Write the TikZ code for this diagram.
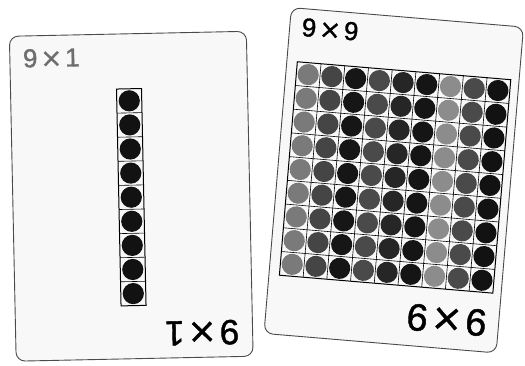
\documentclass[tikz,border=0pt]{standalone}
\usepackage{fontspec}
\newfontfamily\cardfont[FakeBold=1]{DejaVu Sans}
\newfontfamily\digitfont[FakeBold=1.2]{Liberation Sans}
\definecolor{cardfill}{HTML}{F8F8F8}
\definecolor{cardedge}{HTML}{4A4A4A}
\definecolor{colA}{HTML}{7A7A7A}
\definecolor{colB}{HTML}{454545}
\definecolor{colC}{HTML}{161616}
\definecolor{colD}{HTML}{4A4A4A}
\definecolor{colE}{HTML}{262626}
\definecolor{colF}{HTML}{151515}
\definecolor{colG}{HTML}{8C8C8C}
\definecolor{colH}{HTML}{4A4A4A}
\definecolor{colI}{HTML}{121212}
\definecolor{toplabel}{HTML}{6E6E6E}
\newcommand{\cardtext}[2]{{\digitfont #1}\hspace{3pt}{\cardfont ×}\hspace{3pt}{\digitfont #2}}
\tikzset{
  card/.style={draw=cardedge, line width=0.9pt, fill=cardfill, rounded corners=9pt},
  gridline/.style={draw=black, line width=0.6pt},
  gridframe/.style={draw=black, line width=1pt},
  smalllabel/.style={inner sep=0pt, anchor=center, font=\fontsize{26}{30}\selectfont},
  biglabel/.style={inner sep=0pt, anchor=center, rotate=180},
}
\begin{document}
\begin{tikzpicture}[x=1pt, y=-1pt]
\useasboundingbox (0,0) rectangle (525,365);
\fill[white] (0,0) rectangle (525,365);

% Left card 9x1
\begin{scope}[shift={(131.25,196.25)}, rotate=1.2, transform shape]
  \draw[card] (-118.5,-162.5) rectangle (118.5,162.5);
  \foreach \i in {0,...,8}
    \fill[colI] (0,{-107.5+12.05+24.1*\i}) circle[radius=10.6pt];
  \foreach \i in {1,...,8}
    \draw[gridline] (-12.5,{-107.5+24.1*\i}) -- (12.5,{-107.5+24.1*\i});
  \draw[gridframe] (-12.5,-107.5) rectangle (12.5,109.4);
  \node[smalllabel, text=toplabel] (lefttop) at (-77,-140) {\cardtext{9}{1}};
  \node[biglabel, font=\fontsize{35}{40}\selectfont] (leftbottom) at (68,138) {\cardtext{9}{1}};
\end{scope}

% Right card 9x9
\begin{scope}[shift={(393.75,180.25)}, rotate=-4.8, transform shape]
  \draw[card] (-116.5,-163.5) rectangle (116.5,163.5);
  \foreach \c/\col in {0/colA,1/colB,2/colC,3/colD,4/colE,5/colF,6/colG,7/colH,8/colI}
    \foreach \r in {0,...,8}
      \fill[\col] ({-106+11.9+23.8*\c},{-110+11.9+23.8*\r}) circle[radius=10.6pt];
  \foreach \i in {1,...,8} {
    \draw[gridline] (-106,{-110+23.8*\i}) -- (108.2,{-110+23.8*\i});
    \draw[gridline] ({-106+23.8*\i},-110) -- ({-106+23.8*\i},104.2);
  }
  \draw[gridframe] (-106,-110) rectangle (108.2,104.2);
  \node[smalllabel] (righttop) at (-76,-145) {\cardtext{9}{9}};
  \node[biglabel, font=\fontsize{38}{43}\selectfont] (rightbottom) at (64.5,134.8) {\cardtext{9}{9}};
\end{scope}
\end{tikzpicture}
\end{document}
